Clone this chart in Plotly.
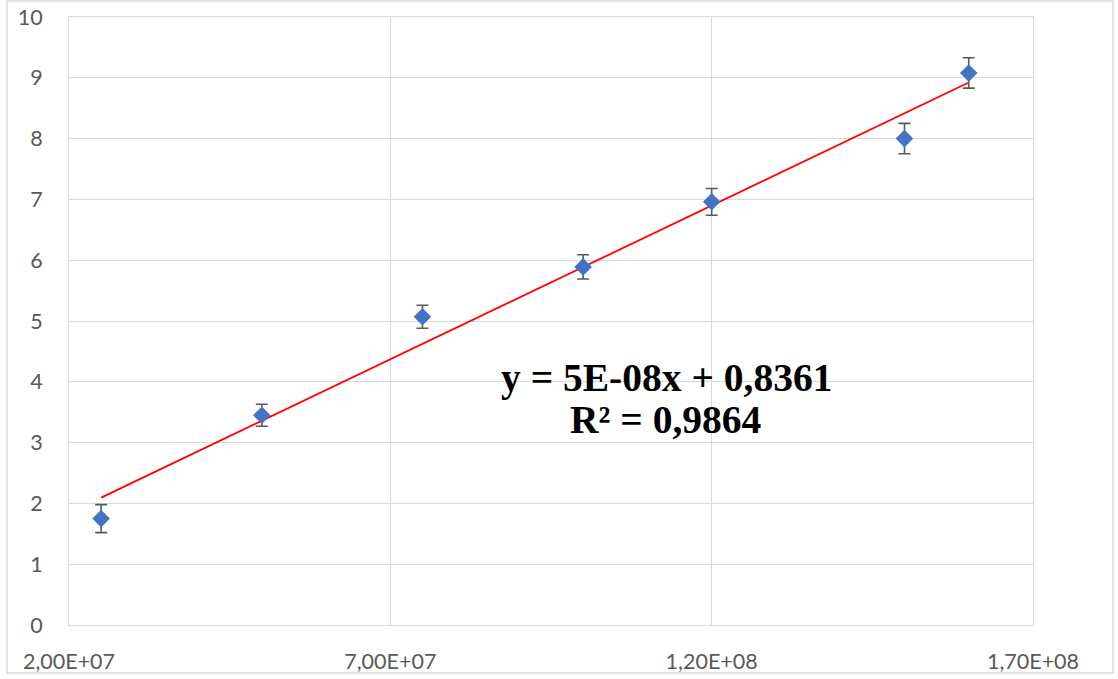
import numpy as np
import plotly.graph_objects as go

# Data
x_vals = [2.5e7, 5.0e7, 7.5e7, 1.0e8, 1.2e8, 1.5e8, 1.6e8]
y_vals = [1.75, 3.45, 5.07, 5.89, 6.96, 8.00, 9.08]
y_err = [0.23, 0.18, 0.19, 0.20, 0.22, 0.25, 0.25]

x_tick_vals = [2e7, 7e7, 1.2e8, 1.7e8]
x_tick_text = ["2,00E+07", "7,00E+07", "1,20E+08", "1,70E+08"]
y_tick_vals = list(range(0, 11))

eq_line1 = "y = 5E-08x + 0,8361"
eq_line2 = "R² = 0,9864"

# Linear trendline fitted from the data
slope, intercept = np.polyfit(x_vals, y_vals, 1)
trend_x = [min(x_vals), max(x_vals)]
trend_y = [slope * v + intercept for v in trend_x]

fig = go.Figure()
fig.add_trace(go.Scatter(
    x=trend_x, y=trend_y, mode="lines",
    line=dict(color="#ff0000", width=1.8),
    showlegend=False, hoverinfo="skip",
))
fig.add_trace(go.Scatter(
    x=x_vals, y=y_vals, mode="markers",
    marker=dict(symbol="diamond", size=13.5, color="#4472c4"),
    error_y=dict(type="data", array=y_err, visible=True,
                 color="#595959", thickness=1.6, width=6),
    showlegend=False,
))

grid = "#d9d9d9"
fig.update_layout(
    width=1118, height=679,
    margin=dict(l=69, r=85, t=17, b=54, autoexpand=False),
    paper_bgcolor="white", plot_bgcolor="white",
    font=dict(family="Lato, Liberation Sans, sans-serif", size=21.5, color="#595959"),
    xaxis=dict(range=[2e7, 1.7e8], tickvals=x_tick_vals, ticktext=x_tick_text,
               showgrid=True, gridcolor=grid, gridwidth=1,
               showline=True, linecolor=grid, mirror=True, zeroline=False,
               ticks="", ticklabelstandoff=17, automargin=False),
    yaxis=dict(range=[0, 10], tickvals=y_tick_vals,
               showgrid=True, gridcolor=grid, gridwidth=1,
               showline=True, linecolor=grid, mirror=True, zeroline=False,
               ticks="", ticklabelstandoff=21, automargin=False),
    annotations=[
        dict(x=(666 - 69) / 964, y=(625 - 378) / 608, xref="paper", yref="paper",
             text="<b>" + eq_line1 + "</b>", showarrow=False,
             font=dict(family="Liberation Serif, Times New Roman, serif", size=39.5, color="black"),
             xanchor="center", yanchor="middle"),
        dict(x=(666 - 69) / 964, y=(625 - 420) / 608, xref="paper", yref="paper",
             text="<b>" + eq_line2 + "</b>", showarrow=False,
             font=dict(family="Liberation Serif, Times New Roman, serif", size=39.5, color="black"),
             xanchor="center", yanchor="middle"),
    ],
    shapes=[dict(type="rect", xref="paper", yref="paper",
                 x0=(7 - 69) / 964, x1=(1113 - 69) / 964,
                 y0=(625 - 673) / 608, y1=(625 - 1) / 608,
                 line=dict(color="#d9d9d9", width=1.5), layer="below")],
)

fig.write_html("out.html", config={"displayModeBar": False},
               post_script="document.body.style.margin='0';document.body.style.padding='0';")
